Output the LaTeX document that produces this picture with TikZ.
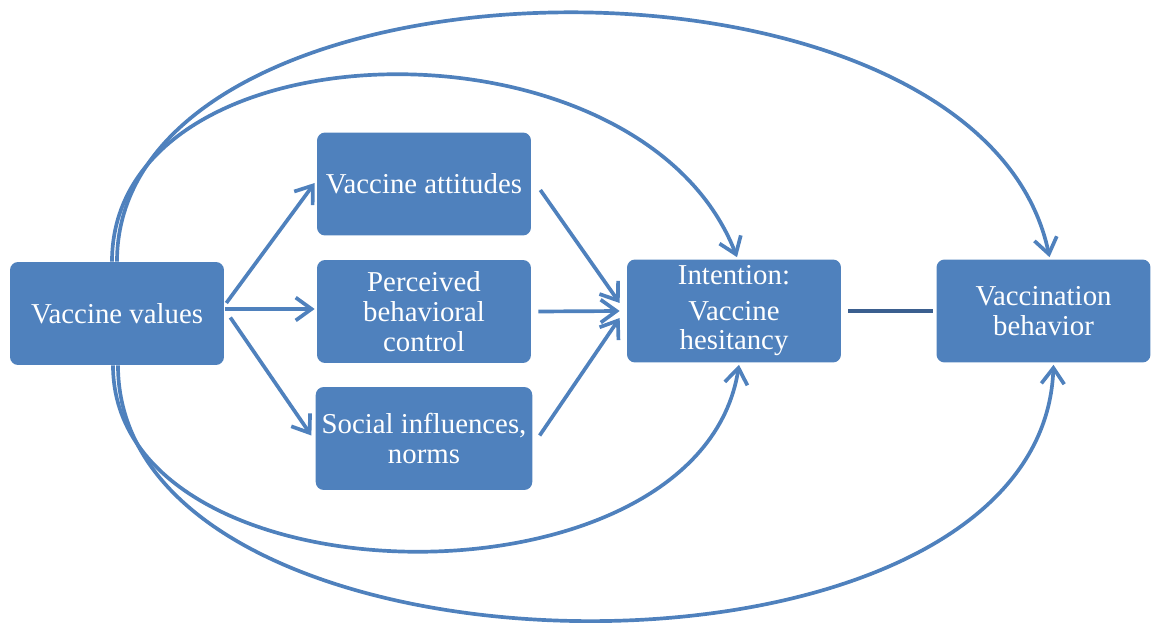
\documentclass[tikz,border=0pt]{standalone}
\usepackage{fontspec}
\setmainfont{Liberation Serif}
\usetikzlibrary{arrows.meta}
\definecolor{boxblue}{HTML}{4F81BD}
\definecolor{linkblue}{HTML}{3B5F8F}
\tikzset{
  box/.style={fill=boxblue, rounded corners=0.16cm, minimum width=4.28cm,
    minimum height=2.06cm, text=white, align=center,
    font=\fontsize{16.4}{17}\selectfont},
  arr/.style={draw=boxblue, line width=2.1pt,
    -{Straight Barb[length=9pt, width=13pt]}}
}
\begin{document}
\begin{tikzpicture}[x=0.02cm, y=0.02cm]
        \useasboundingbox (0,0) rectangle (1153,633);
        %
        \node [box] (values) at (117,319.5) {Vaccine values};
        \node [box] (attitudes) at (424,449) {Vaccine attitudes};
        \node [box] (control) at (424,321.5) {Perceived\\behavioral\\control};
        \node [box] (norms) at (424,194.5) {Social influences,\\norms};
        \node [box] (intention) at (734,322) {Intention:\\[3pt]Vaccine\\hesitancy};
        \node [box] (behavior) at (1043.5,322) {Vaccination\\behavior};
        %
        \draw [arr] ([shift={(2,10.5)}]values.east) -- ([shift={(-2,1)}]attitudes.west);
        \draw [arr] ([shift={(1,4.5)}]values.east) -- ([shift={(-2,2.5)}]control.west);
        \draw [arr] ([shift={(6,-4)}]values.east) -- ([shift={(-4,3)}]norms.west);
        %
        \draw [arr] ([shift={(9,-6)}]attitudes.east) -- ([shift={(-7,8)}]intention.west);
        \draw [arr] ([shift={(7,0)}]control.east) -- ([shift={(-7,0)}]intention.west);
        \draw [arr] ([shift={(7,3)}]norms.east) -- ([shift={(-7,-7)}]intention.west);
        %
        \draw [line width=2.8pt, draw=linkblue, shorten <=4pt, shorten >=2pt] (intention.east) -- (behavior.west);
        %
        \draw [arr] ([shift={(-5,0)}]values.north) .. controls +(0,242) and +(-97,250) .. ([shift={(3,2)}]intention.north);
        \draw [arr] (values.north) .. controls +(0,322) and +(-70,335) .. ([shift={(6,2)}]behavior.north);
        %
        \draw [arr] ([shift={(-4,0)}]values.south) .. controls +(0,-243) and +(-39,-253) .. ([shift={(5,-2)}]intention.south);
        \draw [arr] ([shift={(1,0)}]values.south) .. controls +(0,-333) and +(-13,-348) .. ([shift={(10,-2)}]behavior.south);
      \end{tikzpicture}
\end{document}
